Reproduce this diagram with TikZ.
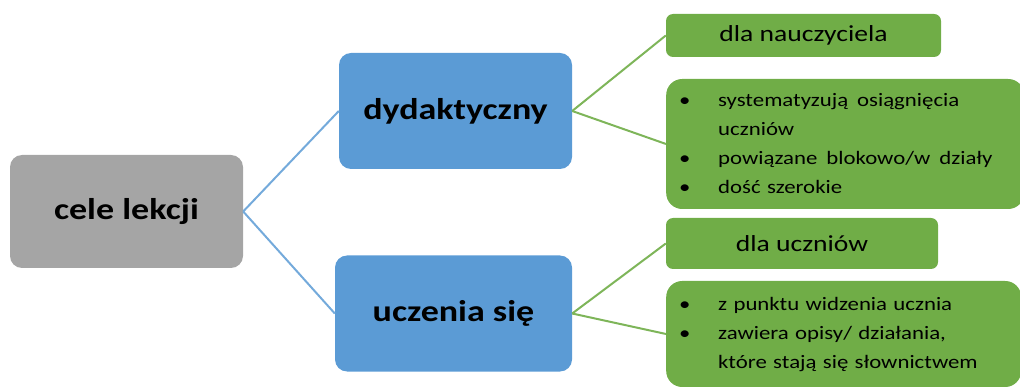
\documentclass[tikz,border=0pt]{standalone}
\usepackage{fontspec}
\setmainfont{Carlito}[FakeStretch=1.2]
\usetikzlibrary{calc}
\definecolor{rootgray}{HTML}{A5A5A5}
\definecolor{kindblue}{HTML}{5B9BD5}
\definecolor{tagGreen}{HTML}{70AD47}
\newcommand{\Gap}{39pt}
\newcommand{\Wsp}{\hspace{9pt}}
\tikzset{Root/.style={
    inner sep=0pt,
    minimum width=233pt,
    minimum height=113pt,
    rounded corners=12pt,
    fill=rootgray,
    font=\bfseries\fontsize{30}{36}\selectfont,
    },
  Kind/.style={Root, fill=kindblue, minimum height=116pt},
  Tag/.style={
    inner sep=0pt,
    minimum height=43pt,
    rounded corners=7pt,
    fill=tagGreen,
    font=\fontsize{23}{28}\selectfont,
    },
  List/.style={
    anchor=west,
    inner xsep=13pt, inner ysep=0pt,
    align=left,
    rounded corners=16pt,
    fill=tagGreen,
    font=\fontsize{19}{29}\selectfont,
    }
}

\begin{document}
\begin{tikzpicture}[x=1pt, y=-1pt,
    blueline/.style={draw=kindblue!85, line width=2pt},
    greenline/.style={draw=tagGreen!90, line width=2pt},
]
\useasboundingbox (0,0) rectangle (1020,387);
% central node and the two kinds
\node [Root] (cele) at (126.5,211.5) {cele lekcji};
\node [Kind] (dyd) at (455.5,111) {dydaktyczny};
\node [Kind, minimum width=237pt] (ucz) at (453.5,313.5) {uczenia się};
% teacher side
\node [Tag, minimum width=275pt] (naucz) at (803.5,35.5) {dla nauczyciela};
\node [List, minimum height=130pt, text width=332pt] (listA) at (666,144) {%
  \begin{tabular}{@{}p{\Gap}@{}l@{}}
  \textbullet & systematyzują\Wsp osiągnięcia\\
   & uczniów\\
  \textbullet & powiązane\Wsp blokowo/w\Wsp działy\\
  \textbullet & dość\ szerokie
  \end{tabular}};
% student side
\node [Tag, minimum width=272pt, minimum height=51pt] (uczn) at (802,243.5) {dla uczniów};
\node [List, minimum height=106pt, text width=329pt] (listB) at (666,334) {%
  \begin{tabular}{@{}p{\Gap}@{}l@{}}
  \textbullet & z punktu widzenia ucznia\\
  \textbullet & zawiera\ opisy/\ działania,\\
   & które\ stają\ się\ słownictwem
  \end{tabular}};
% connectors
\draw [blueline] (cele.east) -- (dyd.west);
\draw [blueline] (cele.east) -- (ucz.west);
\draw [greenline] (dyd.east) -- (naucz.west);
\draw [greenline] (dyd.east) -- (listA.west);
\draw [greenline] (ucz.east) -- (uczn.west);
\draw [greenline] (ucz.east) -- (listB.west);
\end{tikzpicture}
\end{document}
